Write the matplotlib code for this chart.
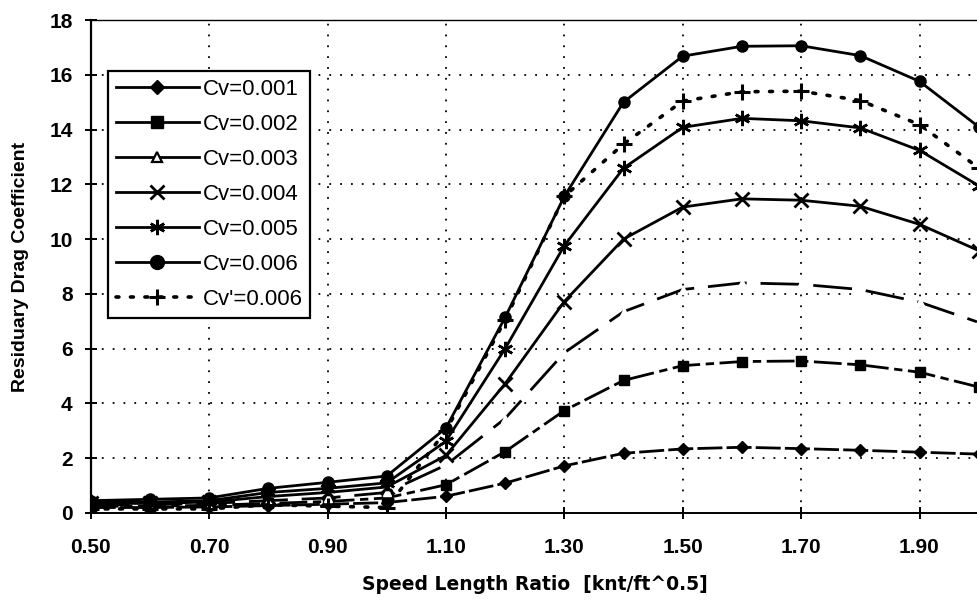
import matplotlib
matplotlib.use("Agg")
import matplotlib.pyplot as plt
from matplotlib.lines import Line2D

# ---------------- data ----------------
speed_ratio = [0.5, 0.6, 0.7, 0.8, 0.9, 1.0, 1.1, 1.2, 1.3, 1.4, 1.5, 1.6, 1.7, 1.8, 1.9, 2.0]
cv_001 = [0.20, 0.20, 0.22, 0.27, 0.32, 0.38, 0.61, 1.09, 1.72, 2.18, 2.34, 2.40, 2.35, 2.29, 2.22, 2.15]
cv_002 = [0.25, 0.25, 0.28, 0.35, 0.42, 0.55, 1.03, 2.24, 3.74, 4.84, 5.38, 5.53, 5.55, 5.41, 5.14, 4.60]
cv_003 = [0.30, 0.30, 0.35, 0.45, 0.55, 0.75, 1.75, 3.45, 5.85, 7.35, 8.16, 8.40, 8.35, 8.16, 7.70, 6.96]
cv_004 = [0.35, 0.35, 0.40, 0.60, 0.75, 0.95, 2.10, 4.72, 7.72, 10.00, 11.17, 11.47, 11.42, 11.20, 10.54, 9.58]
cv_005 = [0.40, 0.40, 0.45, 0.75, 0.90, 1.10, 2.62, 6.00, 9.76, 12.59, 14.08, 14.41, 14.32, 14.06, 13.24, 11.95]
cv_006 = [0.45, 0.50, 0.55, 0.90, 1.12, 1.35, 3.10, 7.14, 11.56, 15.00, 16.68, 17.04, 17.06, 16.70, 15.76, 14.10]
cvp_006 = [0.15, 0.15, 0.15, 0.30, 0.25, 0.20, 3.00, 7.05, 11.56, 13.47, 15.04, 15.38, 15.40, 15.06, 14.18, 12.60]

series_labels = ["Cv=0.001", "Cv=0.002", "Cv=0.003", "Cv=0.004", "Cv=0.005", "Cv=0.006", "Cv'=0.006"]
x_ticks = [0.5, 0.7, 0.9, 1.1, 1.3, 1.5, 1.7, 1.9]
y_ticks = [0, 2, 4, 6, 8, 10, 12, 14, 16, 18]
x_title = "Speed Length Ratio  [knt/ft^0.5]"
y_title = "Residuary Drag Coefficient"

# ---------------- figure ----------------
W, H = 978, 608
fig = plt.figure(figsize=(W / 100, H / 100), dpi=100)
ax_left, ax_right, ax_top, ax_bottom = 90.7, 978.7, 20, 513
ax = fig.add_axes([ax_left / W, (H - ax_bottom) / H, (ax_right - ax_left) / W, (ax_bottom - ax_top) / H])

K = "black"
plot_styles = [
    dict(marker="D", ms=6, mfc=K, mec=K, ls=(0, (9, 1.5)), lw=2.0),
    dict(marker="s", ms=7, mfc=K, mec=K, ls=(0, (10, 2, 3, 2)), lw=2.0),
    dict(marker="^", ms=6, mfc="white", mec="white", ls=(0, (14, 5)), lw=2.0),
    dict(marker="x", ms=10, mec=K, mew=2.0, ls="-", lw=2.0),
    dict(marker=(6, 2, 0), ms=11, mec=K, mew=1.8, ls="-", lw=2.0),
    dict(marker="o", ms=8, mfc=K, mec=K, ls="-", lw=2.0),
    dict(marker="+", ms=11, mec=K, mew=2.2, ls=(0, (0.8, 3.2)), lw=2.6, dash_capstyle="round"),
]
all_series = [cv_001, cv_002, cv_003, cv_004, cv_005, cv_006, cvp_006]
for vals, st, lab in zip(all_series, plot_styles, series_labels):
    ax.plot(speed_ratio, vals, color=K, label=lab, clip_on=True, zorder=3, **st)

ax.set_xlim(0.5, 2.0)
ax.set_ylim(0, 18)
ax.set_xticks(x_ticks)
ax.set_xticklabels([f"{v:.2f}" for v in x_ticks])
ax.set_yticks(y_ticks)
ax.set_yticklabels([str(v) for v in y_ticks])

ax.grid(True, color=K, linestyle=(0, (1, 5)), linewidth=1.3)
ax.set_axisbelow(True)

for s in ["right"]:
    ax.spines[s].set_visible(False)
ax.spines["top"].set_linewidth(1.0)
ax.spines["left"].set_linewidth(1.6)
ax.spines["bottom"].set_linewidth(1.4)

tick_font = dict(family="Liberation Sans", weight="bold", size=15)
ax.tick_params(axis="both", direction="inout", length=8, width=1.4, color=K)
ax.tick_params(axis="x", pad=14)
ax.tick_params(axis="y", pad=9)
for lbl in ax.get_xticklabels() + ax.get_yticklabels():
    lbl.set_fontproperties(matplotlib.font_manager.FontProperties(**tick_font))

ax.set_xlabel(x_title, fontfamily="DejaVu Sans", fontweight="bold", fontsize=13.5)
ax.xaxis.set_label_coords(0.5, (ax_bottom - 584) / (ax_bottom - ax_top))
ax.xaxis.label.set_va("center")
ax.set_ylabel(y_title, fontfamily="Liberation Sans", fontweight="bold", fontsize=14)
ax.yaxis.set_label_coords((21 - ax_left) / (ax_right - ax_left), 0.5)
ax.yaxis.label.set_va("center")

# legend with solid-line handles as in the original chart
leg_styles = [
    dict(marker="D", ms=7, mfc=K, mec=K, ls="-"),
    dict(marker="s", ms=8, mfc=K, mec=K, ls="-"),
    dict(marker="^", ms=7, mfc="white", mec=K, mew=1.6, ls="-"),
    dict(marker="x", ms=10, mec=K, mew=2.0, ls="-"),
    dict(marker=(6, 2, 0), ms=11, mec=K, mew=1.8, ls="-"),
    dict(marker="o", ms=10, mfc=K, mec=K, ls="-"),
    dict(marker="+", ms=12, mec=K, mew=2.2, ls=(0, (0.8, 3.2)), dash_capstyle="round", lw=2.6),
]
handles = []
for st in leg_styles:
    st = dict(st)
    lw = st.pop("lw", 2.0)
    handles.append(Line2D([], [], color=K, lw=lw, **st))

leg = ax.legend(handles, series_labels, loc="upper left",
                bbox_to_anchor=(108 / W, (H - 71) / H), bbox_transform=fig.transFigure,
                borderaxespad=0, frameon=True, fancybox=False, framealpha=1,
                edgecolor=K, prop=dict(family="Liberation Sans", size=16),
                handlelength=3.75, handletextpad=0.15, borderpad=0.35, labelspacing=0.63)
leg.get_frame().set_linewidth(1.6)
leg.set_zorder(5)

fig.savefig("out.png", dpi=100)
